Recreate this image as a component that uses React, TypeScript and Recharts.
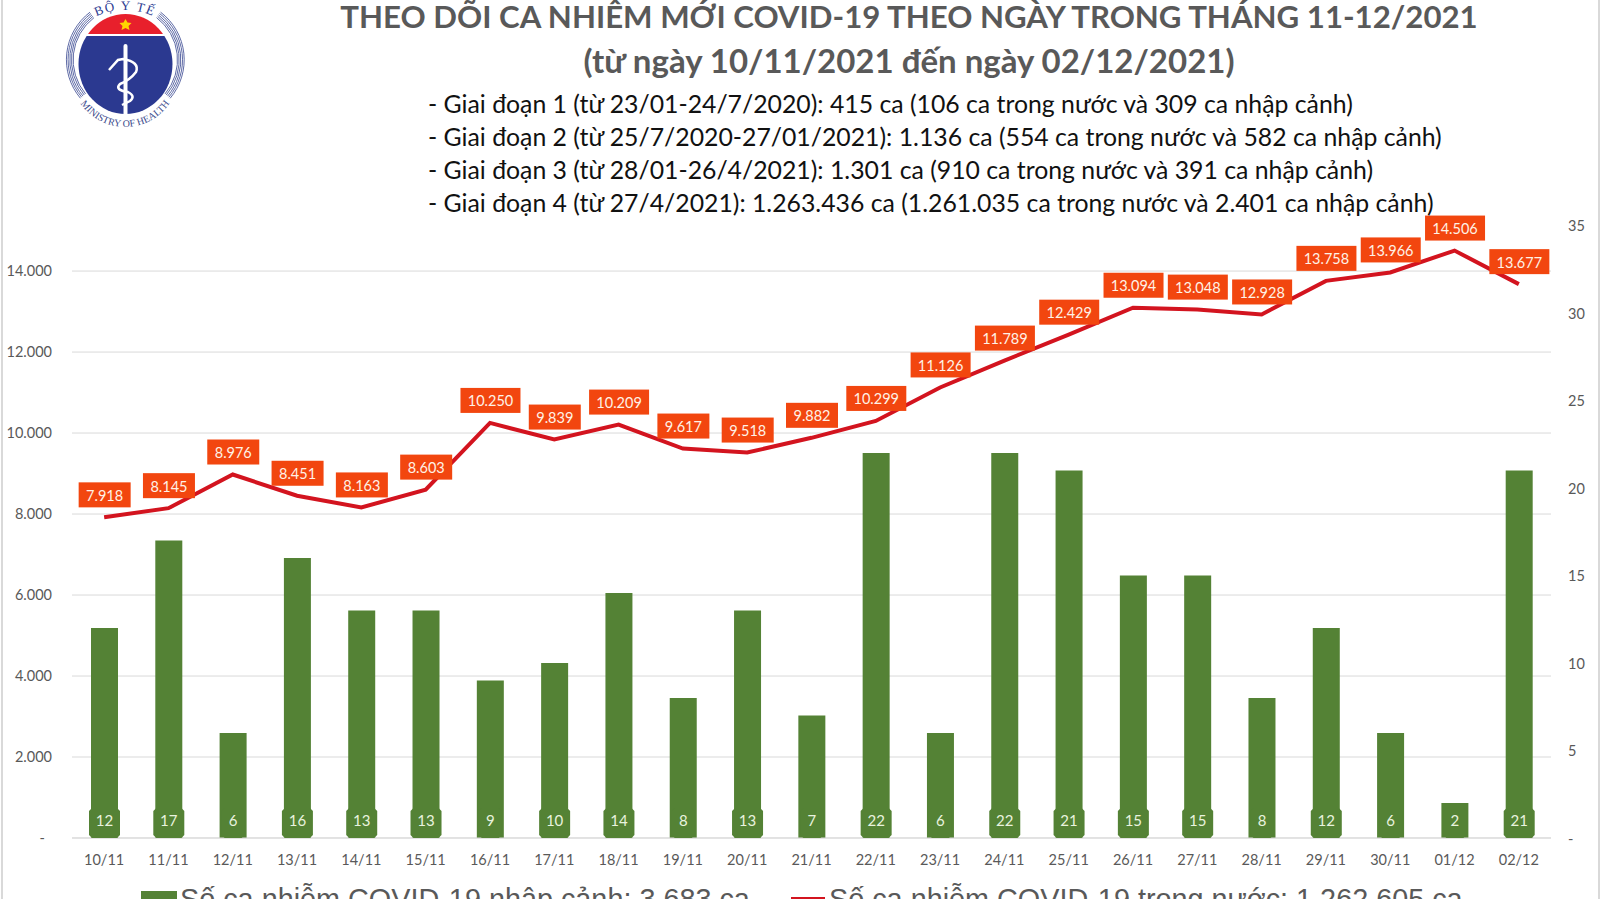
import { Bar, CartesianGrid, ComposedChart, LabelList, Legend, Line, XAxis, YAxis } from "recharts";

const days = ["10/11", "11/11", "12/11", "13/11", "14/11", "15/11", "16/11", "17/11", "18/11", "19/11", "20/11", "21/11", "22/11", "23/11", "24/11", "25/11", "26/11", "27/11", "28/11", "29/11", "30/11", "01/12", "02/12"];
const imported = [12, 17, 6, 16, 13, 13, 9, 10, 14, 8, 13, 7, 22, 6, 22, 21, 15, 15, 8, 12, 6, 2, 21];
const domestic = [7918, 8145, 8976, 8451, 8163, 8603, 10250, 9839, 10209, 9617, 9518, 9882, 10299, 11126, 11789, 12429, 13094, 13048, 12928, 13758, 13966, 14506, 13677];
const leftTicks = [0, 2000, 4000, 6000, 8000, 10000, 12000, 14000];
const rightTicks = [0, 5, 10, 15, 20, 25, 30, 35];

const titleLines = ["THEO DÕI CA NHIỄM MỚI COVID-19 THEO NGÀY TRONG THÁNG 11-12/2021", "(từ ngày 10/11/2021 đến ngày 02/12/2021)"];
const phaseLines = [
  "- Giai đoạn 1 (từ 23/01-24/7/2020): 415 ca (106 ca trong nước và 309 ca nhập cảnh)",
  "- Giai đoạn 2 (từ 25/7/2020-27/01/2021): 1.136 ca (554 ca trong nước và 582 ca nhập cảnh)",
  "- Giai đoạn 3 (từ 28/01-26/4/2021): 1.301 ca (910 ca trong nước và 391 ca nhập cảnh)",
  "- Giai đoạn 4 (từ 27/4/2021): 1.263.436 ca (1.261.035 ca trong nước và 2.401 ca nhập cảnh)",
];

const data = days.map((day, i) => ({ day, imported: imported[i], domestic: domestic[i] }));

const FONT = "Lato, sans-serif";
const GREY = "#595959";
const GREEN = "#548235";
const RED = "#d3141f";
const LABEL_RED = "#f2460f";

const dotted = (n: number) => String(n).replace(/\B(?=(\d{3})+$)/g, ".");

function LineLabel({ x, y, value }: any) {
  const w = value >= 10000 ? 60 : 52;
  return (
    <g>
      <rect x={x - w / 2 + 0.5} y={y - 35} width={w} height={25} fill={LABEL_RED} />
      <text x={x + 0.5} y={y - 22} fill="#fff2e6" fontFamily={FONT} fontSize={14.5} textAnchor="middle" dominantBaseline="central">
        {dotted(value)}
      </text>
    </g>
  );
}

function BarLabel({ x, y, width, height, value }: any) {
  const w = value >= 10 ? 31 : 23;
  const cx = x + width / 2;
  const bottom = y + height;
  const l = cx - w / 2;
  const r = cx + w / 2;
  const top = bottom - 30;
  return (
    <g>
      <path d={`M ${l + 3} ${top} L ${r - 3} ${top} L ${r} ${top + 3} L ${r} ${bottom - 3} L ${r - 3} ${bottom} L ${l + 3} ${bottom} L ${l} ${bottom - 3} L ${l} ${top + 3} Z`} fill={GREEN} />
      <text x={cx} y={bottom - 18} fill="#e9f3df" fontFamily={FONT} fontSize={15} textAnchor="middle" dominantBaseline="central">
        {value}
      </text>
    </g>
  );
}

function LeftTick({ y, payload }: any) {
  return (
    <text x={payload.value === 0 ? 45 : 52} y={y - 1} fill={GREY} fontFamily={FONT} fontSize={14.5} textAnchor="end" dominantBaseline="central">
      {payload.value === 0 ? "-" : dotted(payload.value)}
    </text>
  );
}

function RightTick({ y, payload }: any) {
  return (
    <text x={1568} y={y} fill={GREY} fontFamily={FONT} fontSize={14.5} dominantBaseline="central">
      {payload.value === 0 ? "-" : payload.value}
    </text>
  );
}

function LegendRow({ payload }: any) {
  const starts = [141, 791];
  return (
    <div style={{ position: "relative", height: 0, fontFamily: "'Liberation Sans', sans-serif", fontSize: 28.8, color: GREY, textAlign: "left", whiteSpace: "nowrap" }}>
      {(payload || []).map((item: any, i: number) => (
        <div key={item.value} style={{ position: "absolute", left: starts[i], top: 0 }}>
          {i === 0 ? (
            <span style={{ position: "absolute", left: 0, top: 11, width: 36, height: 20, background: GREEN }} />
          ) : (
            <span style={{ position: "absolute", left: 0, top: 17, width: 34, height: 2, background: RED }} />
          )}
          <span style={{ position: "absolute", left: i === 0 ? 39 : 38, top: 3 }}>{item.value}</span>
        </div>
      ))}
    </div>
  );
}

function Logo() {
  const arcs = [53, 54.7, 56.4, 58.1, 59.8];
  return (
    <svg width={130} height={135} viewBox="60 0 130 135" style={{ position: "absolute", left: 60, top: 0 }}>
      <defs>
        <path id="logoTop" d="M 90 20 A 66 66 0 0 1 160 20" />
        <path id="logoBottom" d="M 79 101 A 53.7 53.7 0 0 0 171 101" />
        <clipPath id="logoClip">
          <ellipse cx={125.5} cy={64} rx={47} ry={50} />
        </clipPath>
      </defs>
      {arcs.map((r) => (
        <g key={r} fill="none" stroke="#4d5a9c" strokeWidth={0.9}>
          <path d={`M ${125.3 - r * 0.59} ${60 - r * 0.8} A ${r} ${r} 0 0 0 ${125.3 - r * 0.75} ${60 + r * 0.64}`} />
          <path d={`M ${125.3 + r * 0.59} ${60 - r * 0.8} A ${r} ${r} 0 0 1 ${125.3 + r * 0.75} ${60 + r * 0.64}`} />
        </g>
      ))}
      <g clipPath="url(#logoClip)">
        <rect x={70} y={10} width={110} height={24} fill="#e8202c" />
        <rect x={70} y={36} width={110} height={80} fill="#2b3990" />
      </g>
      <polygon points="125.5,19 127.5,22.5 131.5,23 128.5,26 129.5,30 125.5,28 121.5,30 122.5,26 119.5,23 123.5,22.5" fill="#ffd400" />
      <path d="M 125.5 46 L 125.5 114" stroke="#fff" strokeWidth={4} strokeLinecap="round" />
      <path d="M 109 70 L 118 60 L 123 59 Q 140 62 136 72 Q 130 80 120 84 Q 114 90 128 92 Q 136 96 130 101 L 122 105" fill="none" stroke="#fff" strokeWidth={2.5} />
      <text fill="#2b3990" fontFamily="'Liberation Serif', serif" fontSize={13} letterSpacing={1.5}>
        <textPath href="#logoTop" startOffset="50%" textAnchor="middle">BỘ Y TẾ</textPath>
      </text>
      <text fill="#3a4a8c" fontFamily="'Liberation Serif', serif" fontSize={10}>
        <textPath href="#logoBottom" startOffset="50%" textAnchor="middle">MINISTRY OF HEALTH</textPath>
      </text>
    </svg>
  );
}

export default function App() {
  return (
    <div style={{ position: "absolute", left: 0, top: 0, width: 1600, height: 899, overflow: "hidden", background: "#fff" }}>
      <ComposedChart width={1600} height={899} data={data} margin={{ top: 225.5, right: 0, bottom: 0, left: 0 }} barCategoryGap={0}>
        <CartesianGrid yAxisId="left" vertical={false} stroke="#d9d9d9" syncWithTicks />
        <XAxis dataKey="day" height={61} stroke="#d9d9d9" tickLine={false} tick={{ fill: GREY, fontFamily: FONT, fontSize: 14.5 }} tickMargin={11} interval={0} />
        <YAxis yAxisId="left" width={72} domain={[0, 15125]} ticks={leftTicks} axisLine={false} tickLine={false} tick={<LeftTick />} />
        <YAxis yAxisId="right" orientation="right" width={49} domain={[0, 35]} ticks={rightTicks} axisLine={false} tickLine={false} tick={<RightTick />} />
        <Legend content={<LegendRow />} wrapperStyle={{ position: "absolute", left: 0, top: 880, width: 1600, height: 0 }} />
        <Bar yAxisId="right" dataKey="imported" name="Số ca nhiễm COVID-19 nhập cảnh: 3.683 ca" fill={GREEN} barSize={27} isAnimationActive={false}>
          <LabelList dataKey="imported" content={<BarLabel />} />
        </Bar>
        <Line yAxisId="left" dataKey="domestic" name="Số ca nhiễm COVID-19 trong nước: 1.262.605 ca" stroke={RED} strokeWidth={4} dot={false} isAnimationActive={false}>
          <LabelList dataKey="domestic" content={<LineLabel />} />
        </Line>
      </ComposedChart>

      {titleLines.map((line, i) => (
        <div key={line} style={{ position: "absolute", left: 0, width: 1818, top: i === 0 ? -3 : 40, textAlign: "center", fontFamily: FONT, fontWeight: 700, fontSize: i === 0 ? 31.2 : 33, color: GREY, whiteSpace: "nowrap" }}>
          {line}
        </div>
      ))}
      {phaseLines.map((line, i) => (
        <div key={line} style={{ position: "absolute", left: 428, top: 88.5 + i * 33, fontFamily: FONT, fontSize: 24.8, color: "#111", whiteSpace: "nowrap" }}>
          {line}
        </div>
      ))}
      <Logo />
      <div style={{ position: "absolute", left: 1, top: 0, width: 2, height: 899, background: "#d9d9d9" }} />
      <div style={{ position: "absolute", right: 0, top: 0, width: 2, height: 899, background: "#d9d9d9" }} />
    </div>
  );
}
